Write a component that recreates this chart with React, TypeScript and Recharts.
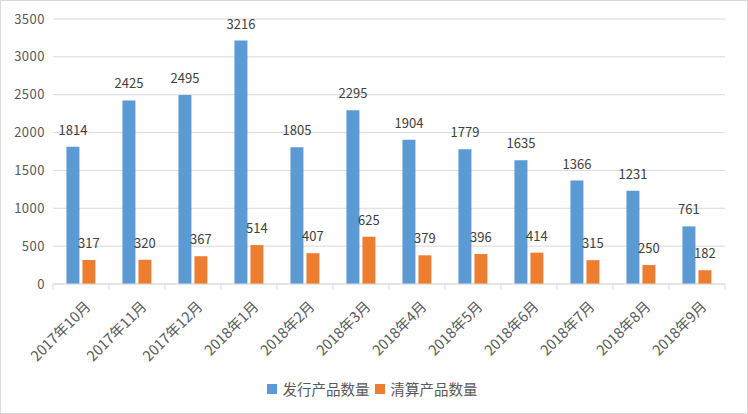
import { Bar, BarChart, CartesianGrid, LabelList, Legend, XAxis, YAxis } from 'recharts';

const months = [
  '2017年10月', '2017年11月', '2017年12月', '2018年1月', '2018年2月', '2018年3月',
  '2018年4月', '2018年5月', '2018年6月', '2018年7月', '2018年8月', '2018年9月',
];
const issued = [1814, 2425, 2495, 3216, 1805, 2295, 1904, 1779, 1635, 1366, 1231, 761];
const cleared = [317, 320, 367, 514, 407, 625, 379, 396, 414, 315, 250, 182];
const yTicks = [0, 500, 1000, 1500, 2000, 2500, 3000, 3500];

const seriesNames = { issued: '发行产品数量', cleared: '清算产品数量' };
const colors = { issued: '#5B9BD5', cleared: '#ED7D31' };

const data = months.map((m, i) => ({ month: m, issued: issued[i], cleared: cleared[i] }));

const font = '"Noto Sans CJK SC", "Noto Sans", sans-serif';

function MonthTick(props: any) {
  const { x, y, payload, index } = props;
  const band = 56;
  return (
    <g>
      <line x1={x - band / 2} y1={y - 8} x2={x - band / 2} y2={y - 2} stroke="#d9d9d9" />
      {index === months.length - 1 && (
        <line x1={x + band / 2} y1={y - 8} x2={x + band / 2} y2={y - 2} stroke="#d9d9d9" />
      )}
      <g transform={`translate(${x + 6},${y + 11})`}>
        <text transform="rotate(-45)" textAnchor="end" dominantBaseline="central" fill="#595959" fontSize={14.5} fontFamily={font}>
          {payload.value}
        </text>
      </g>
    </g>
  );
}

function LegendBox() {
  return (
    <div style={{ height: 40, display: 'flex', justifyContent: 'center', alignItems: 'flex-start', paddingTop: 5, paddingLeft: 24, boxSizing: 'border-box', fontFamily: font, fontSize: 14.5, color: '#595959' }}>
      {(['issued', 'cleared'] as const).map((k) => (
        <span key={k} style={{ display: 'flex', alignItems: 'center', marginRight: 5, lineHeight: '20px' }}>
          <span style={{ width: 10, height: 10, background: colors[k], display: 'inline-block', marginRight: 6 }} />
          {seriesNames[k]}
        </span>
      ))}
    </div>
  );
}

export default function App() {
  return (
    <div style={{ position: 'fixed', left: 0, top: 0, width: 748, height: 414, background: '#fff' }}>
      <BarChart
        width={748}
        height={414}
        data={data}
        margin={{ top: 19, right: 23, left: 0, bottom: 0 }}
        barCategoryGap="24%"
        barGap={3}
      >
        <CartesianGrid vertical={false} stroke="#d9d9d9" />
        <XAxis
          dataKey="month"
          interval={0}
          height={90}
          axisLine={{ stroke: '#d9d9d9' }}
          tickLine={false}
          tick={<MonthTick />}
        />
        <YAxis
          width={53}
          domain={[0, 3500]}
          ticks={yTicks}
          axisLine={false}
          tickLine={false}
          tick={{ fill: '#595959', fontSize: 13, fontFamily: font, letterSpacing: 0.5 }}
        />
        <Legend verticalAlign="bottom" height={40} content={<LegendBox />} />
        <Bar dataKey="issued" name={seriesNames.issued} fill={colors.issued} isAnimationActive={false}>
          <LabelList dataKey="issued" position="top" offset={12} fill="#404040" fontSize={13} fontFamily={font} />
        </Bar>
        <Bar dataKey="cleared" name={seriesNames.cleared} fill={colors.cleared} isAnimationActive={false}>
          <LabelList dataKey="cleared" position="top" offset={12} fill="#404040" fontSize={13} fontFamily={font} />
        </Bar>
      </BarChart>
      <div style={{ position: 'absolute', inset: 0, border: '1px solid #d9d9d9', pointerEvents: 'none' }} />
    </div>
  );
}
